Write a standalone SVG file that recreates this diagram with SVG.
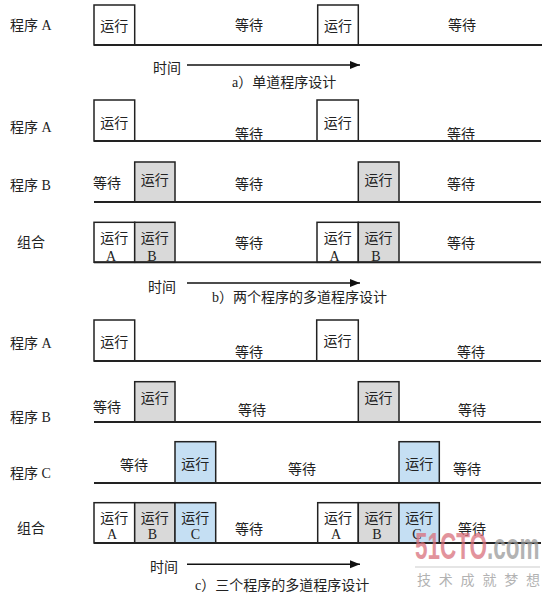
<svg xmlns="http://www.w3.org/2000/svg" width="550" height="596" viewBox="0 0 550 596">
<style>
.t{font-family:"Liberation Serif","Noto Sans CJK SC",serif;font-size:14px;fill:#222}
.m{text-anchor:middle}
.box{stroke:#222;stroke-width:1.5}
.w{fill:#fff}
.g{fill:#d9d9d9}
.b{fill:#c5dff3}
.line{stroke:#222;stroke-width:2;fill:none}
.arr{stroke:#111;stroke-width:1.5;fill:none}
</style>
<defs>
<marker id="ah" viewBox="0 0 10 10" refX="10" refY="5" markerWidth="10" markerHeight="10" markerUnits="userSpaceOnUse" orient="auto">
<path d="M0,1 L10,5 L0,9 Z" fill="#111"/>
</marker>
</defs>
<rect width="550" height="596" fill="#fff"/>

<!-- Section a -->
<g id="a-label-A"><text class="t" x="10" y="30">程序 A</text></g>
<g id="a-A-run1"><rect class="box w" x="94" y="5" width="40.7" height="40"/><text class="t m" x="114.3" y="31">运行</text></g>
<g id="a-A-wait1"><text class="t" x="235" y="30">等待</text></g>
<g id="a-A-run2"><rect class="box w" x="317.7" y="5" width="40.6" height="40"/><text class="t m" x="338" y="31">运行</text></g>
<g id="a-A-wait2"><text class="t" x="448" y="30">等待</text></g>
<g id="a-time"><text class="t" x="153" y="72.5">时间</text></g>
<g id="a-caption"><text class="t" x="232" y="87">a）单道程序设计</text></g>

<!-- Section b -->
<g id="b-label-A"><text class="t" x="10" y="131.7">程序 A</text></g>
<g id="b-A-run1"><rect class="box w" x="94" y="100" width="40.7" height="41"/><text class="t m" x="114.3" y="128">运行</text></g>
<g id="b-A-wait1"><text class="t" x="235" y="139">等待</text></g>
<g id="b-A-run2"><rect class="box w" x="317" y="100" width="41.3" height="41"/><text class="t m" x="337.7" y="128">运行</text></g>
<g id="b-A-wait2"><text class="t" x="447" y="139">等待</text></g>

<g id="b-label-B"><text class="t" x="10" y="190">程序 B</text></g>
<g id="b-B-wait0"><text class="t" x="93" y="188">等待</text></g>
<g id="b-B-run1"><rect class="box g" x="134.7" y="162" width="40.3" height="40"/><text class="t m" x="154.8" y="185">运行</text></g>
<g id="b-B-wait1"><text class="t" x="235" y="189">等待</text></g>
<g id="b-B-run2"><rect class="box g" x="358.3" y="162" width="40.7" height="40"/><text class="t m" x="378.6" y="185">运行</text></g>
<g id="b-B-wait2"><text class="t" x="447" y="189">等待</text></g>

<g id="b-label-comb"><text class="t" x="17" y="246.7">组合</text></g>
<g id="b-comb-A1"><rect class="box w" x="94" y="222.3" width="40.7" height="40"/><text class="t m" x="114.3" y="243">运行</text><text class="t m" x="111" y="261">A</text></g>
<g id="b-comb-B1"><rect class="box g" x="134.7" y="222.3" width="40.3" height="40"/><text class="t m" x="154.8" y="243">运行</text><text class="t m" x="152" y="261">B</text></g>
<g id="b-comb-wait1"><text class="t" x="235" y="248">等待</text></g>
<g id="b-comb-A2"><rect class="box w" x="317" y="222.3" width="41.3" height="40"/><text class="t m" x="337.7" y="243">运行</text><text class="t m" x="334.5" y="261">A</text></g>
<g id="b-comb-B2"><rect class="box g" x="358.3" y="222.3" width="40.7" height="40"/><text class="t m" x="378.6" y="243">运行</text><text class="t m" x="376" y="261">B</text></g>
<g id="b-comb-wait2"><text class="t" x="447" y="248">等待</text></g>
<g id="b-time"><text class="t" x="148" y="292">时间</text></g>
<g id="b-caption"><text class="t" x="212" y="302">b）两个程序的多道程序设计</text></g>

<!-- Section c -->
<g id="c-label-A"><text class="t" x="10" y="348">程序 A</text></g>
<g id="c-A-run1"><rect class="box w" x="94" y="320" width="40.7" height="41"/><text class="t m" x="114.3" y="346.5">运行</text></g>
<g id="c-A-wait1"><text class="t" x="235" y="356.7">等待</text></g>
<g id="c-A-run2"><rect class="box w" x="316.7" y="320" width="41.6" height="41"/><text class="t m" x="337.5" y="346">运行</text></g>
<g id="c-A-wait2"><text class="t" x="457" y="357">等待</text></g>

<g id="c-label-B"><text class="t" x="10" y="421.7">程序 B</text></g>
<g id="c-B-wait0"><text class="t" x="93" y="411.7">等待</text></g>
<g id="c-B-run1"><rect class="box g" x="134.7" y="381.7" width="40.3" height="40.3"/><text class="t m" x="154.8" y="403">运行</text></g>
<g id="c-B-wait1"><text class="t" x="238" y="415">等待</text></g>
<g id="c-B-run2"><rect class="box g" x="358.3" y="381.7" width="40.7" height="40.3"/><text class="t m" x="378.6" y="403">运行</text></g>
<g id="c-B-wait2"><text class="t" x="458" y="415">等待</text></g>

<g id="c-label-C"><text class="t" x="10" y="478">程序 C</text></g>
<g id="c-C-wait0"><text class="t" x="120" y="470">等待</text></g>
<g id="c-C-run1"><rect class="box b" x="175" y="441.7" width="40.7" height="41.3"/><text class="t m" x="195.3" y="469">运行</text></g>
<g id="c-C-wait1"><text class="t" x="288" y="474">等待</text></g>
<g id="c-C-run2"><rect class="box b" x="399" y="441.7" width="40.3" height="41.3"/><text class="t m" x="419.2" y="469">运行</text></g>
<g id="c-C-wait2"><text class="t" x="453" y="474">等待</text></g>

<g id="c-label-comb"><text class="t" x="17" y="533">组合</text></g>
<g id="c-comb-A1"><rect class="box w" x="94" y="502.7" width="40.7" height="40.3"/><text class="t m" x="114.3" y="523">运行</text><text class="t m" x="112" y="538.5">A</text></g>
<g id="c-comb-B1"><rect class="box g" x="134.7" y="502.7" width="40.3" height="40.3"/><text class="t m" x="154.8" y="523">运行</text><text class="t m" x="152.5" y="538.5">B</text></g>
<g id="c-comb-C1"><rect class="box b" x="175" y="502.7" width="40.7" height="40.3"/><text class="t m" x="195.3" y="523">运行</text><text class="t m" x="195.3" y="538.5">C</text></g>
<g id="c-comb-wait1"><text class="t" x="235" y="534">等待</text></g>
<g id="c-comb-A2"><rect class="box w" x="317.7" y="502.7" width="40.6" height="40.3"/><text class="t m" x="338" y="523">运行</text><text class="t m" x="336" y="538.5">A</text></g>
<g id="c-comb-B2"><rect class="box g" x="358.3" y="502.7" width="40.7" height="40.3"/><text class="t m" x="378.6" y="523">运行</text><text class="t m" x="377" y="538.5">B</text></g>
<g id="c-comb-C2"><rect class="box b" x="399" y="502.7" width="40.3" height="40.3"/><text class="t m" x="419.2" y="523">运行</text><text class="t m" x="417" y="538.5">C</text></g>
<g id="c-comb-wait2"><text class="t" x="458" y="534">等待</text></g>
<g id="c-time"><text class="t" x="150" y="571.7">时间</text></g>
<g id="c-caption"><text class="t" x="195" y="590">c）三个程序的多道程序设计</text></g>

<!-- connectors: timelines and time arrows -->
<g id="connectors">
<line class="line" x1="94" y1="45" x2="542" y2="45"/>
<line class="arr" x1="187" y1="65" x2="360" y2="65" marker-end="url(#ah)"/>
<line class="line" x1="94" y1="141" x2="541" y2="141"/>
<line class="line" x1="94" y1="202" x2="541" y2="202"/>
<line class="line" x1="94" y1="262.3" x2="541" y2="262.3"/>
<line class="arr" x1="187" y1="283" x2="360" y2="283" marker-end="url(#ah)"/>
<line class="line" x1="94" y1="361" x2="541" y2="361"/>
<line class="line" x1="94" y1="422" x2="541" y2="422"/>
<line class="line" x1="94" y1="483" x2="541" y2="483"/>
<line class="line" x1="94" y1="543" x2="541" y2="543"/>
<line class="arr" x1="187" y1="564.3" x2="360" y2="564.3" marker-end="url(#ah)"/>
</g>

<!-- watermark -->
<g id="watermark" opacity="0.75">
<text transform="translate(415,559) scale(0.865,1.4)" x="0" y="0" font-family="'Liberation Sans','DejaVu Sans',sans-serif" font-weight="bold" font-size="26"><tspan fill="#d9707c">51CTO</tspan><tspan fill="#9a9a9a">.com</tspan></text>
<line x1="415" y1="567" x2="540" y2="567" stroke="#bbb" stroke-width="1"/>
<text x="417" y="585" font-family="'Noto Sans CJK SC',sans-serif" font-size="14" fill="#999" letter-spacing="7.8">技术成就梦想</text>
</g>
</svg>
